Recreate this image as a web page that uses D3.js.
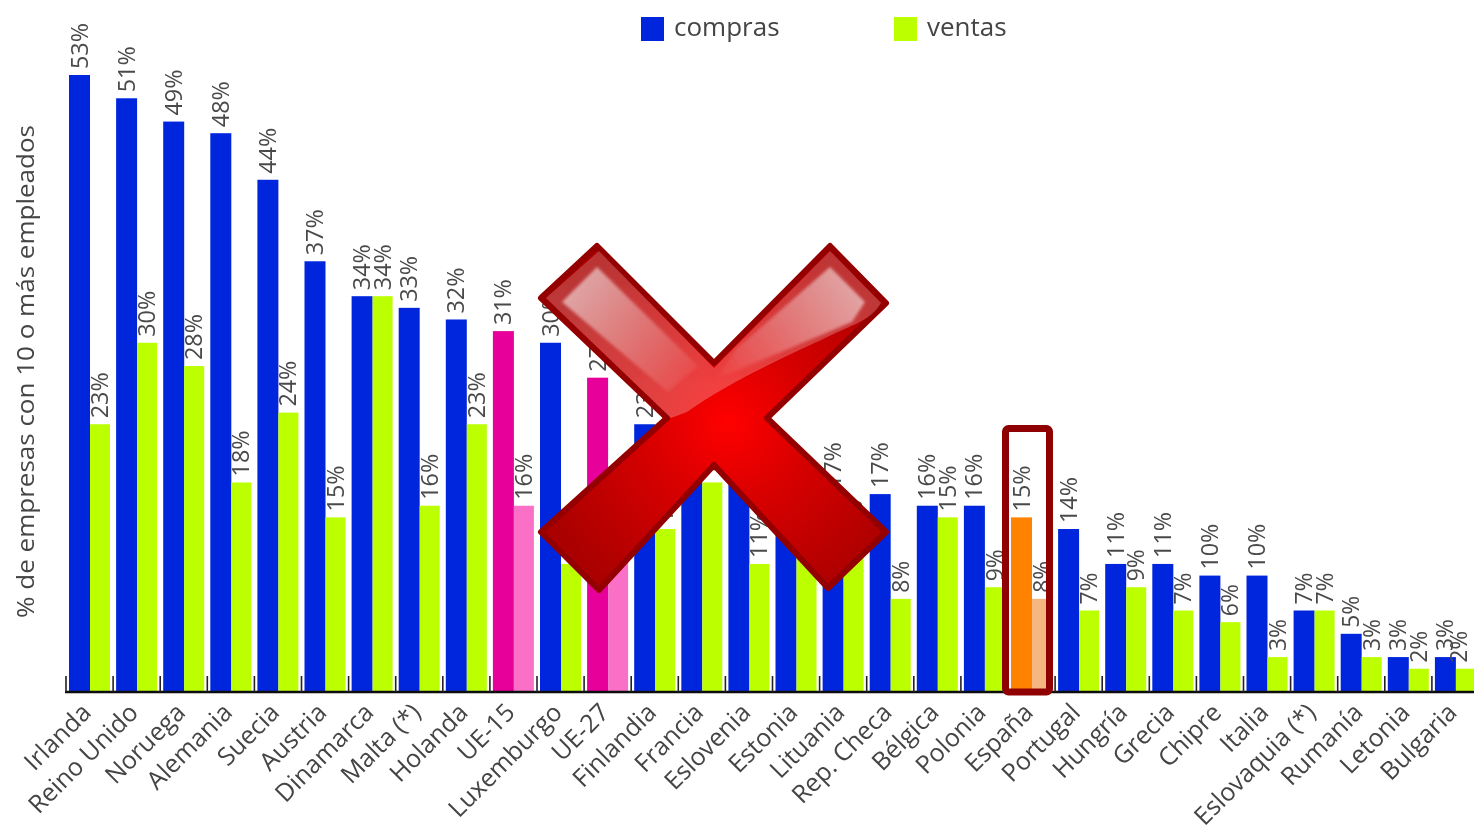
<!DOCTYPE html>
<html><head><meta charset="utf-8">
<script src="https://cdn.jsdelivr.net/npm/d3@7/dist/d3.min.js"></script>
<style>html,body{margin:0;padding:0;background:#fff;overflow:hidden}svg{display:block}text{font-family:"Open Sans",sans-serif}</style>
</head><body>
<script>
const categories = ["Irlanda","Reino Unido","Noruega","Alemania","Suecia","Austria","Dinamarca","Malta (*)","Holanda","UE-15","Luxemburgo","UE-27","Finlandia","Francia","Eslovenia","Estonia","Lituania","Rep. Checa","Bélgica","Polonia","España","Portugal","Hungría","Grecia","Chipre","Italia","Eslovaquia (*)","Rumanía","Letonia","Bulgaria"];
const compras = [53,51,49,48,44,37,34,33,32,31,30,27,23,22,20,17,17,17,16,16,15,14,11,11,10,10,7,5,3,3];
const ventas  = [23,30,28,18,24,15,34,16,23,16,11,14,14,18,11,14,12,8,15,9,8,7,9,7,6,3,7,3,2,2];
const seriesNames = ["compras","ventas"];
const yAxisTitle = "% de empresas con 10 o más empleados";

const W=1474,H=831;
const baseY=692, topY=75;
const svg=d3.select("body").append("svg").attr("width",W).attr("height",H).attr("viewBox",`0 0 ${W} ${H}`);
const defs=svg.append("defs");
defs.append("filter").attr("id","soft").attr("x","-5%").attr("y","-5%").attr("width","110%").attr("height","110%")
  .append("feGaussianBlur").attr("stdDeviation",0.7);
defs.append("filter").attr("id","soft2").attr("x","-20%").attr("y","-20%").attr("width","140%").attr("height","140%")
  .append("feGaussianBlur").attr("stdDeviation",1.6);

const x=d3.scaleBand().domain(categories).range([66,66+30*47.1]).padding(0);
const y=d3.scaleLinear().domain([0,53]).range([baseY,topY]);

const highlight={"UE-15":["#e8009a","#f970c6"],"UE-27":["#e8009a","#f970c6"],"España":["#ff8205","#f6b682"]};
const base=["#0527dd","#bcff06"];
const colour=(c,i)=>(highlight[c]||base)[i];
const barOffset=[3,24], barW=[21,20];

const chart=svg.append("g").attr("filter","url(#soft)");

// bars
[compras,ventas].forEach((vals,s)=>{
  chart.append("g").selectAll("rect").data(categories).join("rect")
    .attr("x",c=>x(c)+barOffset[s]).attr("width",barW[s])
    .attr("y",(c,i)=>y(vals[i])).attr("height",(c,i)=>baseY-y(vals[i]))
    .attr("fill",c=>colour(c,s));
});

// axis
const axis=d3.axisBottom(x).tickSize(0).tickFormat("");
const ag=chart.append("g").attr("transform",`translate(0,${baseY})`).call(axis);
ag.select(".domain").attr("stroke","#111").attr("stroke-width",2.4).attr("d",`M65,0H${W}`);
ag.selectAll(".tick").remove();
chart.append("g").selectAll("line").data(categories).join("line")
  .attr("x1",c=>x(c)).attr("x2",c=>x(c)).attr("y1",baseY-16).attr("y2",baseY)
  .attr("stroke","#222").attr("stroke-width",1.6);

// value labels
[compras,ventas].forEach((vals,s)=>{
  chart.append("g").selectAll("text").data(categories).join("text")
    .attr("transform",(c,i)=>`translate(${Math.min(x(c)+barOffset[s]+barW[s]/2+8,W-7)},${y(vals[i])-6}) rotate(-90)`)
    .attr("font-size",24).attr("fill","#4a4a4a")
    .attr("textLength",(c,i)=>vals[i]>=10?46:32).attr("lengthAdjust","spacingAndGlyphs")
    .text((c,i)=>vals[i]+"%");
});

// category labels
chart.append("g").selectAll("text").data(categories).join("text")
  .attr("transform",c=>`translate(${x(c)+x.bandwidth()/2+3},${baseY+22}) rotate(-45)`)
  .attr("text-anchor","end").attr("font-size",25).attr("fill","#444")
  .text(c=>c);

// y title
chart.append("text").attr("transform",`translate(34,618) rotate(-90)`)
  .attr("font-size",23).attr("fill","#444").attr("textLength",493).attr("lengthAdjust","spacingAndGlyphs").text(yAxisTitle);

// legend
const legendX=[641,894];
seriesNames.forEach((n,i)=>{
  chart.append("rect").attr("x",legendX[i]).attr("y",17).attr("width",23).attr("height",24).attr("fill",base[i]);
  chart.append("text").attr("x",legendX[i]+33).attr("y",36).attr("font-size",26).attr("fill","#444").text(n);
});

// España box
chart.append("rect").attr("x",x("España")-2.5).attr("y",428.5).attr("width",44).attr("height",baseY-428.5)
  .attr("fill","none").attr("stroke","#8f0505").attr("stroke-width",7).attr("rx",3);

// red cross
const cx=728,cy=423;
const cross=[[597,246],[714,363],[830,246],[886,303],[767,418],[886,532],[828,588],[714,465],[599,590],[541,532],[667,418],[541,298]];
const line=d3.line().curve(d3.curveLinearClosed);
const rg=defs.append("radialGradient").attr("id","redR").attr("gradientUnits","userSpaceOnUse")
  .attr("cx",cx).attr("cy",cy).attr("r",200);
rg.append("stop").attr("offset",0).attr("stop-color","#ff0000");
rg.append("stop").attr("offset",0.4).attr("stop-color","#d80000");
rg.append("stop").attr("offset",1).attr("stop-color","#aa0000");
const g1=defs.append("linearGradient").attr("id","gloss").attr("gradientUnits","userSpaceOnUse").attr("x1",0).attr("x2",0).attr("y1",246).attr("y2",420);
g1.append("stop").attr("offset",0).attr("stop-color","#fff").attr("stop-opacity",0.2);
g1.append("stop").attr("offset",1).attr("stop-color","#fff").attr("stop-opacity",0.26);
const g2=defs.append("linearGradient").attr("id","hl").attr("gradientUnits","userSpaceOnUse").attr("x1",575).attr("x2",690).attr("y1",285).attr("y2",385);
g2.append("stop").attr("offset",0).attr("stop-color","#fff").attr("stop-opacity",0.55);
g2.append("stop").attr("offset",1).attr("stop-color","#fff").attr("stop-opacity",0.05);
const g3=defs.append("linearGradient").attr("id","hr").attr("gradientUnits","userSpaceOnUse").attr("x1",855).attr("x2",725).attr("y1",285).attr("y2",385);
g3.append("stop").attr("offset",0).attr("stop-color","#fff").attr("stop-opacity",0.55);
g3.append("stop").attr("offset",1).attr("stop-color","#fff").attr("stop-opacity",0.02);

const xg=svg.append("g").attr("filter","url(#soft)");
xg.append("path").attr("d",line(cross)).attr("fill","url(#redR)").attr("stroke","#940000").attr("stroke-width",6).attr("stroke-linejoin","round");
xg.append("path").attr("d","M599,251L714,368L830,251L881,303C872,318 860,322 836,333C800,350 735,378 687,412L671,418L546,298Z").attr("fill","url(#gloss)");
xg.append("path").attr("d","M562,302L597,267L698,366L668,392Z").attr("fill","url(#hl)").attr("filter","url(#soft2)");
xg.append("path").attr("d","M830,267L865,302L852,322C800,344 750,365 718,378L735,350Z").attr("fill","url(#hr)").attr("filter","url(#soft2)");
</script>
</body></html>
